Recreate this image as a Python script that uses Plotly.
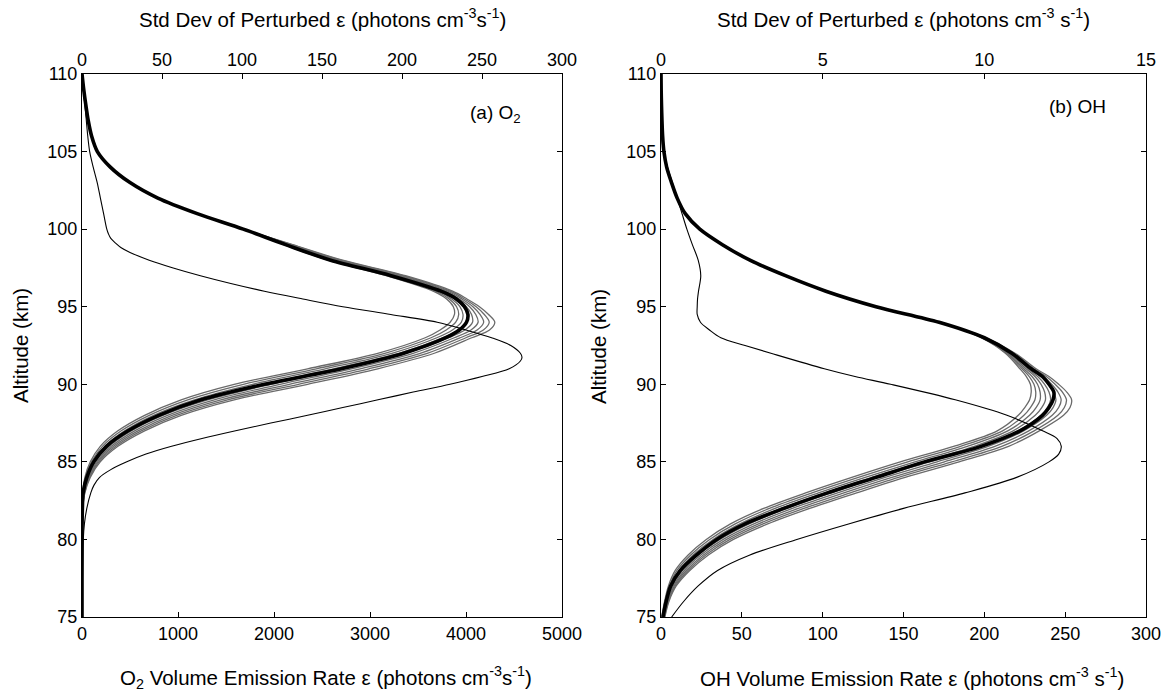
import plotly.graph_objects as go

# ---------------- O2 panel data ----------------
O2_ALT = [75, 80, 81, 82, 83, 84, 85, 86, 87, 88, 89, 90, 91, 92, 93, 93.5, 94, 94.5,
          95, 95.5, 96, 97, 98, 99, 100, 101, 102, 103, 104, 105, 106, 107, 108, 109, 110]
O2_MEAN = [0, 0, 1, 4, 12, 50, 122, 255, 480, 800, 1240, 1900, 2700, 3350, 3790, 3930, 4005, 4020,
           3985, 3900, 3740, 3220, 2590, 2120, 1680, 1200, 790, 500, 295, 160, 100, 65, 40, 18, 0]

# perturbed profiles on the peak-region grid (outside it they follow the mean)
O2_BAND_ALT = [82, 83, 84, 85, 86, 87, 88, 89, 90, 91, 92, 93, 93.5, 94, 94.5, 95, 95.5, 96, 97, 98, 99]
O2_PERTURBED = [
    [2.2, 7.5, 30, 86, 190, 374, 652, 1033, 1585, 2350, 3080, 3575, 3730, 3835, 3880, 3868, 3798, 3658, 3168, 2563, 2103],
    [2.9, 10.3, 37, 99, 213, 409, 700, 1102, 1681, 2441, 3154, 3636, 3794, 3893, 3924, 3902, 3825, 3683, 3193, 2582, 2115],
    [3.5, 13.1, 44, 112, 236, 444, 747, 1171, 1776, 2533, 3228, 3696, 3859, 3951, 3969, 3936, 3851, 3709, 3219, 2601, 2126],
    [4.2, 15.9, 51, 125, 259, 478, 795, 1240, 1872, 2624, 3301, 3757, 3923, 4009, 4013, 3970, 3878, 3734, 3244, 2620, 2138],
    [4.8, 18.7, 58, 138, 282, 513, 842, 1309, 1967, 2715, 3375, 3818, 3988, 4068, 4058, 4004, 3904, 3759, 3269, 2639, 2149],
    [5.5, 21.6, 65, 151, 305, 548, 890, 1378, 2063, 2806, 3449, 3878, 4052, 4126, 4102, 4038, 3931, 3784, 3294, 2658, 2161],
    [6.2, 24.4, 72, 164, 328, 583, 938, 1447, 2159, 2898, 3523, 3939, 4116, 4184, 4146, 4072, 3957, 3810, 3320, 2677, 2172],
    [6.8, 27.2, 79, 177, 351, 617, 985, 1516, 2254, 2989, 3596, 3999, 4181, 4242, 4191, 4106, 3984, 3835, 3345, 2696, 2184],
    [7.5, 30, 86, 190, 374, 652, 1033, 1585, 2350, 3080, 3670, 4060, 4245, 4300, 4235, 4140, 4010, 3860, 3370, 2715, 2195],
]

O2_STD_ALT = [75, 80, 81, 82, 83, 83.5, 84, 84.5, 85, 85.5, 86, 86.5, 87, 87.5, 88, 88.5, 89, 89.5,
              90, 90.5, 91, 91.5, 91.75, 92, 92.5, 93, 93.5, 94, 94.5, 95, 95.5, 96, 96.5, 97,
              97.5, 98, 98.5, 98.8, 99.1, 99.4, 99.7, 100, 101, 102, 103, 104, 105, 106, 107,
              108, 109, 110]
O2_STD = [0, 0.8, 1.5, 3, 5.5, 7.5, 11, 18, 28, 40, 56, 75, 96, 118, 141, 163, 185, 207,
          230, 250, 267, 274, 275, 274, 268, 256, 240, 222, 193, 163, 138, 114, 93, 74,
          57, 42, 30, 24.5, 21, 18, 16.5, 15.5, 13.5, 11.5, 9.5, 7, 4.8, 3.6, 2.7,
          1.8, 0.8, 0]

# ---------------- OH panel data ----------------
OH_ALT = [75, 76, 77, 78, 79, 80, 81, 82, 83, 84, 85, 86, 87, 88, 88.5, 89, 89.5, 90, 90.5, 91,
          92, 93, 94, 95, 96, 97, 98, 99, 100, 101, 102, 103, 104, 105, 106, 107, 108, 109, 110]
OH_MEAN = [1.2, 3.2, 6, 12, 22, 34.5, 52, 76, 103, 133, 163, 198, 222, 236, 240, 242.5, 243, 240, 236, 229,
           217, 200, 172, 133, 102, 77, 55, 38, 24, 15, 10, 6.5, 3.5, 1.8, 1, 0.6, 0.3, 0.1, 0]

OH_BAND_ALT = [75, 76, 77, 78, 79, 80, 81, 82, 83, 84, 85, 86, 87, 88, 88.5, 89, 89.5, 90, 90.5, 91, 92, 93]
OH_PERTURBED = [
    [0.5, 2.2, 4.6, 8.8, 16.8, 28, 43, 63.5, 89.5, 118, 148, 181, 208, 221, 225, 228, 229, 228.5, 226, 222, 213, 198],
    [0.74, 2.54, 5.2, 9.9, 18.4, 30.1, 45.9, 67.1, 93.4, 122.1, 152.6, 185.3, 211.3, 224.5, 228.5, 231.3, 231.8, 230.7, 227.8, 223.3, 213.8, 198.4],
    [0.98, 2.88, 5.8, 11.1, 19.9, 32.2, 48.8, 70.6, 97.4, 126.3, 157.1, 189.5, 214.5, 228, 232, 234.5, 234.5, 232.9, 229.5, 224.5, 214.5, 198.8],
    [1.21, 3.21, 6.4, 12.2, 21.5, 34.3, 51.6, 74.2, 101.3, 130.4, 161.7, 193.8, 217.8, 231.5, 235.5, 237.8, 237.3, 235.1, 231.3, 225.8, 215.3, 199.1],
    [1.45, 3.55, 7.0, 13.3, 23.1, 36.4, 54.5, 77.8, 105.3, 134.5, 166.2, 198, 221, 235, 239, 241, 240, 237.3, 233, 227, 216, 199.5],
    [1.69, 3.89, 7.6, 14.4, 24.6, 38.5, 57.4, 81.3, 109.2, 138.6, 170.8, 202.3, 224.3, 238.5, 242.5, 244.3, 242.8, 239.4, 234.8, 228.3, 216.8, 199.9],
    [1.93, 4.23, 8.2, 15.6, 26.2, 40.6, 60.3, 84.9, 113.1, 142.8, 175.3, 206.5, 227.5, 242, 246, 247.5, 245.5, 241.6, 236.5, 229.5, 217.5, 200.3],
    [2.16, 4.56, 8.8, 16.7, 27.7, 42.7, 63.1, 88.4, 117.1, 146.9, 179.9, 210.8, 230.8, 245.5, 249.5, 250.8, 248.3, 243.8, 238.3, 230.8, 218.3, 200.6],
    [2.4, 4.9, 9.4, 17.8, 29.3, 44.8, 66, 92, 121, 151, 184.4, 215, 234, 249, 253, 254, 251, 246, 240, 232, 219, 201],
]

OH_STD_ALT = [75, 76, 77, 78, 79, 80, 81, 82, 83, 84, 85, 85.5, 86, 86.5, 87, 88, 89, 90, 90.5, 91,
              92, 92.5, 93, 93.5, 94, 94.5, 95, 95.5, 96, 97, 98, 99, 100, 101, 102, 103, 104,
              105, 106, 107, 108, 110]
OH_STD = [0.33, 0.7, 1.15, 1.75, 2.75, 4.2, 5.8, 7.5, 9.4, 11.0, 12.0, 12.3, 12.38, 12.25, 11.8, 10.7, 9.1, 7.1, 6.0, 5.05,
          3.4, 2.6, 1.85, 1.5, 1.22, 1.12, 1.12, 1.13, 1.16, 1.23, 1.15, 0.97, 0.8, 0.65, 0.5, 0.35, 0.2,
          0.07, 0.03, 0.01, 0.005, 0]

# tick values
O2_TICKS = [0, 1000, 2000, 3000, 4000, 5000]
OH_TICKS = [0, 50, 100, 150, 200, 250, 300]
O2_STD_TICKS = [0, 50, 100, 150, 200, 250, 300]
OH_STD_TICKS = [0, 5, 10, 15]
ALT_TICKS = [75, 80, 85, 90, 95, 100, 105, 110]

W, H = 1166, 694
FONT = "Arial, Liberation Sans, Helvetica, sans-serif"
GREY = "#6a6a6a"


def full_profile(mean_alt, mean_val, band_alt, band_val):
    """Perturbed profile: band values inside the peak region, mean outside."""
    lo, hi = band_alt[0], band_alt[-1]
    alt, val = [], []
    for a, v in zip(mean_alt, mean_val):
        if a < lo:
            alt.append(a)
            val.append(v)
    alt += band_alt
    val += band_val
    for a, v in zip(mean_alt, mean_val):
        if a > hi:
            alt.append(a)
            val.append(v)
    return alt, val


fig = go.Figure()
SPL = dict(shape="spline", smoothing=0.9)

# ----- O2 -----
for prof in O2_PERTURBED:
    a, v = full_profile(O2_ALT, O2_MEAN, O2_BAND_ALT, prof)
    fig.add_trace(go.Scatter(x=v, y=a, mode="lines", xaxis="x", yaxis="y",
                             line=dict(color=GREY, width=1.3, **SPL), hoverinfo="skip"))
fig.add_trace(go.Scatter(x=O2_MEAN, y=O2_ALT, mode="lines", xaxis="x", yaxis="y",
                         line=dict(color="black", width=3.6, **SPL)))
fig.add_trace(go.Scatter(x=O2_STD, y=O2_STD_ALT, mode="lines", xaxis="x2", yaxis="y",
                         line=dict(color="black", width=1.1, **SPL)))

# ----- OH -----
for prof in OH_PERTURBED:
    a, v = full_profile(OH_ALT, OH_MEAN, OH_BAND_ALT, prof)
    fig.add_trace(go.Scatter(x=v, y=a, mode="lines", xaxis="x3", yaxis="y2",
                             line=dict(color=GREY, width=1.3, **SPL), hoverinfo="skip"))
fig.add_trace(go.Scatter(x=OH_MEAN, y=OH_ALT, mode="lines", xaxis="x3", yaxis="y2",
                         line=dict(color="black", width=3.6, **SPL)))
fig.add_trace(go.Scatter(x=OH_STD, y=OH_STD_ALT, mode="lines", xaxis="x4", yaxis="y2",
                         line=dict(color="black", width=1.1, **SPL)))

# panel geometry (pixels -> paper fractions)
LX = [82 / W, 562 / W]
RX = [661 / W, 1146 / W]
YD = [1 - 617 / H, 1 - 74 / H]

axis_style = dict(showline=True, linecolor="black", linewidth=1, ticks="inside", ticklen=5,
                  tickwidth=1, tickcolor="black", showgrid=False, zeroline=False,
                  automargin=False, tickfont=dict(family=FONT, size=18, color="black"))

fig.update_layout(
    width=W, height=H,
    margin=dict(l=0, r=0, t=0, b=0),
    paper_bgcolor="white", plot_bgcolor="white",
    showlegend=False,
    xaxis=dict(domain=LX, range=[0, 5000], anchor="y", side="bottom",
               tickvals=O2_TICKS, **axis_style),
    xaxis2=dict(range=[0, 300], overlaying="x", anchor="y", side="top",
                tickvals=O2_STD_TICKS, **axis_style),
    yaxis=dict(domain=YD, range=[75, 110], anchor="x", mirror="ticks",
               tickvals=ALT_TICKS, **axis_style),
    xaxis3=dict(domain=RX, range=[0, 300], anchor="y2", side="bottom",
                tickvals=OH_TICKS, **axis_style),
    xaxis4=dict(range=[0, 15], overlaying="x3", anchor="y2", side="top",
                tickvals=OH_STD_TICKS, **axis_style),
    yaxis2=dict(domain=YD, range=[75, 110], anchor="x3", mirror="ticks",
                tickvals=ALT_TICKS, **axis_style),
)


def label(text, px, py, angle=0, size=20.5):
    fig.add_annotation(text=text, x=px / W, y=1 - py / H, xref="paper", yref="paper",
                       showarrow=False, xanchor="center", yanchor="middle", textangle=angle,
                       font=dict(family=FONT, size=size, color="black"))


label("Std Dev of Perturbed ε (photons cm<sup>-3</sup>s<sup>-1</sup>)", 322, 18)
label("O<sub>2</sub> Volume Emission Rate ε (photons cm<sup>-3</sup>s<sup>-1</sup>)", 326, 677)
label("Altitude (km)", 20, 346, angle=-90)
label("(a) O<sub>2</sub>", 495, 114, size=19)

label("Std Dev of Perturbed ε (photons cm<sup>-3</sup> s<sup>-1</sup>)", 903, 18)
label("OH Volume Emission Rate ε (photons cm<sup>-3</sup> s<sup>-1</sup>)", 912, 677)
label("Altitude (km)", 598, 346, angle=-90)
label("(b) OH", 1077, 106, size=19)

fig.write_html("out.html")
